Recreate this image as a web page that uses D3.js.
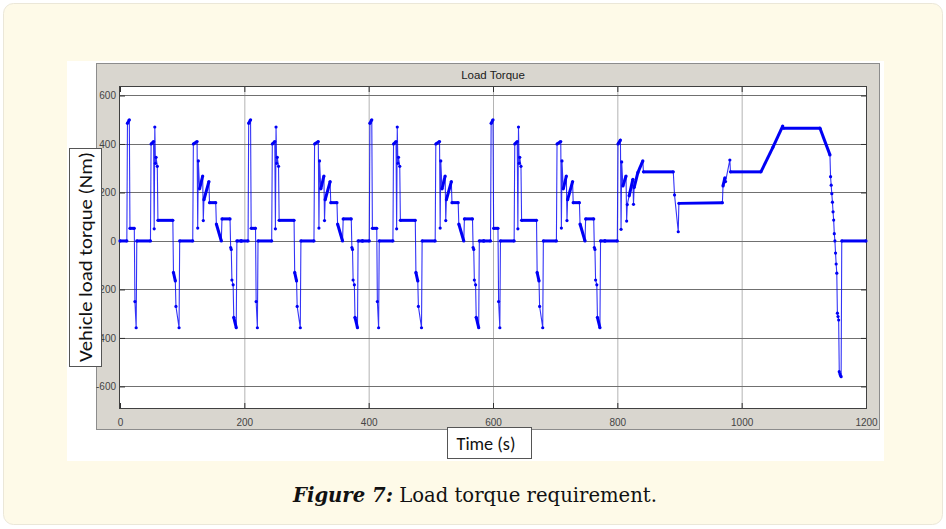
<!DOCTYPE html>
<html>
<head>
<meta charset="utf-8">
<script src="https://cdn.jsdelivr.net/npm/d3@7"></script>
<style>
  body { margin: 0; background: #ffffff; }
</style>
</head>
<body>
<div id="chart"></div>
<script>
// ECE-15 urban cycle (time in s from cycle start, torque in Nm)
var eceStarts = [0, 195, 390, 585];
var eceTime   = [0, 11, 12, 15, 16, 23, 24, 26, 27, 49,
                 50, 54, 55, 56, 57, 58, 60, 61, 85, 86,
                 89, 90, 95, 96, 117, 118, 124, 125, 126, 128,
                 133, 134, 135, 143, 144, 154, 155, 163, 164, 177,
                 178, 179, 180, 182, 183, 187, 188, 195];
var eceTorque = [0, 0, 485, 500, 52, 52, -250, -358, 0, 0,
                 400, 410, 50, 470, 320, 345, 308, 85, 85, -130,
                 -165, -270, -358, 0, 0, 400, 410, 53, 330, 215,
                 268, 84, 170, 245, 158, 158, 70, 0, 91, 91,
                 -27, -35, -161, -181, -315, -358, 0, 0];

// extra urban part (absolute time)
var eudcTime   = [780, 800, 801, 805, 806, 807, 809, 814, 815, 816,
                  819, 825, 826, 827, 833, 841, 842, 890, 892, 898,
                  899, 969, 970, 973, 974, 981, 982, 1031, 1050, 1066,
                  1067, 1126, 1142, 1143, 1144, 1145, 1146, 1147, 1148, 1149,
                  1150, 1151, 1152, 1153, 1154, 1155, 1156, 1157, 1158, 1159,
                  1160, 1161, 1200];
var eudcTorque = [0, 0, 400, 416, 48, 326, 227, 268, 82, 150,
                  186, 254, 151, 220, 282, 330, 285, 285, 190, 38,
                  155, 158, 227, 260, 245, 334, 285, 285, 385, 474,
                  465, 465, 355, 265, 230, 195, 160, 120, 86, 30,
                  0, -50, -95, -133, -298, -312, -326, -539, -548, -555,
                  -560, 0, 0];

var xTicks = [0, 200, 400, 600, 800, 1000, 1200];
var yTicks = [-600, -400, -200, 0, 200, 400, 600];

var svgWidth = 946;
var svgHeight = 529;

// plot box inside the grey figure panel
var plot = {left: 120, right: 866, top: 87, bottom: 408};

var svg = d3.select("#chart")
  .append("svg")
  .attr("width", svgWidth)
  .attr("height", svgHeight);

// page card
svg.append("rect")
  .attr("x", 3.5).attr("y", 3.5)
  .attr("width", 939).attr("height", 521)
  .attr("rx", 10)
  .attr("fill", "#fefae8")
  .attr("stroke", "#ebe7d8");

// white picture
svg.append("rect")
  .attr("x", 67).attr("y", 61)
  .attr("width", 817).attr("height", 400)
  .attr("fill", "#ffffff");

// grey figure panel
svg.append("rect")
  .attr("x", 96.5).attr("y", 63.5)
  .attr("width", 783).attr("height", 366)
  .attr("fill", "#d9d6cf")
  .attr("stroke", "#8c8c8c");

svg.append("rect")
  .attr("x", plot.left).attr("y", plot.top)
  .attr("width", plot.right - plot.left).attr("height", plot.bottom - plot.top)
  .attr("fill", "#ffffff");

// scales
var xScale = d3.scaleLinear()
  .domain([0, 1200])
  .range([plot.left, plot.right]);

var yScale = d3.scaleLinear()
  .domain([-689, 635])
  .range([plot.bottom, plot.top]);

// grid
svg.append("g").selectAll("line")
  .data(xTicks.slice(1, -1))
  .enter().append("line")
  .attr("x1", d => xScale(d) + 0.5).attr("x2", d => xScale(d) + 0.5)
  .attr("y1", plot.top).attr("y2", plot.bottom)
  .attr("stroke", "#b4b4b4");

svg.append("g").selectAll("line")
  .data(yTicks)
  .enter().append("line")
  .attr("x1", plot.left).attr("x2", plot.right)
  .attr("y1", d => Math.round(yScale(d)) + 0.5).attr("y2", d => Math.round(yScale(d)) + 0.5)
  .attr("stroke", "#707070");

// axes, ticks pointing inwards like matlab
var tickFont = "'Liberation Sans Narrow', 'Liberation Sans', Arial, sans-serif";

var leftAxis = d3.axisLeft(yScale).tickValues(yTicks).tickSize(-5).tickPadding(4)
  .tickFormat(d => String(d));
var rightAxis = d3.axisRight(yScale).tickValues(yTicks).tickSize(-5).tickFormat("");
var bottomAxis = d3.axisBottom(xScale).tickValues(xTicks).tickSize(-5).tickPadding(11)
  .tickFormat(d => String(d));
var topAxis = d3.axisTop(xScale).tickValues(xTicks).tickSize(-5).tickFormat("");

function styleAxis(g) {
  g.select(".domain").remove();
  g.selectAll(".tick line").attr("stroke", "#303030");
  g.selectAll(".tick text")
    .attr("fill", "#444444")
    .style("font-family", tickFont)
    .style("font-size", "10px");
}

svg.append("g").attr("transform", `translate(${plot.left}, 0)`).call(leftAxis).call(styleAxis);
svg.append("g").attr("transform", `translate(${plot.right}, 0)`).call(rightAxis).call(styleAxis);
svg.append("g").attr("transform", `translate(0, ${plot.bottom})`).call(bottomAxis).call(styleAxis);
svg.append("g").attr("transform", `translate(0, ${plot.top})`).call(topAxis).call(styleAxis);

// axes box
svg.append("rect")
  .attr("x", plot.left - 0.5).attr("y", plot.top - 0.5)
  .attr("width", plot.right - plot.left + 1).attr("height", plot.bottom - plot.top + 1)
  .attr("fill", "none")
  .attr("stroke", "#404040");

// title
svg.append("text")
  .attr("x", 493).attr("y", 79)
  .attr("text-anchor", "middle")
  .style("font-family", tickFont)
  .style("font-size", "11.5px")
  .attr("fill", "#202020")
  .text("Load Torque");

// build series from the arrays
var series = [];
eceStarts.forEach(function(s) {
  eceTime.forEach(function(t, i) {
    series.push({t: s + t, v: eceTorque[i]});
  });
});
eudcTime.forEach(function(t, i) {
  series.push({t: t, v: eudcTorque[i]});
});

var blue = "#0000f5";

var line = d3.line()
  .x(d => xScale(d.t))
  .y(d => yScale(d.v));

var traceGroup = svg.append("g");

traceGroup.append("path")
  .datum(series)
  .attr("d", line)
  .attr("fill", "none")
  .attr("stroke", blue)
  .attr("stroke-width", 1.1)
  .attr("stroke-opacity", 0.8);

// densely sampled runs look thick because of the markers
var runs = [];
for (var i = 1; i < series.length; i++) {
  var a = series[i - 1], b = series[i];
  var dt = b.t - a.t;
  if (dt >= 3 && Math.abs(b.v - a.v) / dt < 12) runs.push([a, b]);
}

traceGroup.selectAll(".run")
  .data(runs)
  .enter().append("path")
  .attr("class", "run")
  .attr("d", line)
  .attr("fill", "none")
  .attr("stroke", blue)
  .attr("stroke-width", 3);

traceGroup.selectAll("circle")
  .data(series)
  .enter().append("circle")
  .attr("cx", d => xScale(d.t))
  .attr("cy", d => yScale(d.v))
  .attr("r", 1.6)
  .attr("fill", blue);

// axis label boxes
var labelFont = "Calibri, 'Open Sans', 'Noto Sans', sans-serif";

svg.append("rect")
  .attr("x", 69.5).attr("y", 148.5)
  .attr("width", 32).attr("height", 218)
  .attr("fill", "#ffffff")
  .attr("stroke", "#555555");

svg.append("text")
  .attr("transform", "translate(92, 257) rotate(-90)")
  .attr("text-anchor", "middle")
  .attr("textLength", 210)
  .attr("lengthAdjust", "spacingAndGlyphs")
  .style("font-family", labelFont)
  .style("font-size", "17.5px")
  .attr("fill", "#111111")
  .text("Vehicle load torque (Nm)");

svg.append("rect")
  .attr("x", 447.5).attr("y", 427.5)
  .attr("width", 84).attr("height", 31)
  .attr("fill", "#ffffff")
  .attr("stroke", "#555555");

svg.append("text")
  .attr("x", 486).attr("y", 450)
  .attr("text-anchor", "middle")
  .attr("textLength", 59)
  .attr("lengthAdjust", "spacingAndGlyphs")
  .style("font-family", labelFont)
  .style("font-size", "17.5px")
  .attr("fill", "#111111")
  .text("Time (s)");

// caption
var caption = svg.append("text")
  .attr("x", 475).attr("y", 502)
  .attr("text-anchor", "middle")
  .attr("textLength", 364)
  .attr("lengthAdjust", "spacingAndGlyphs")
  .style("font-family", "'DejaVu Serif', 'Liberation Serif', serif")
  .style("font-size", "20px")
  .attr("fill", "#111111");

caption.append("tspan")
  .style("font-weight", "bold")
  .style("font-style", "italic")
  .text("Figure 7:");

caption.append("tspan")
  .text(" Load torque requirement.");
</script>
</body>
</html>
